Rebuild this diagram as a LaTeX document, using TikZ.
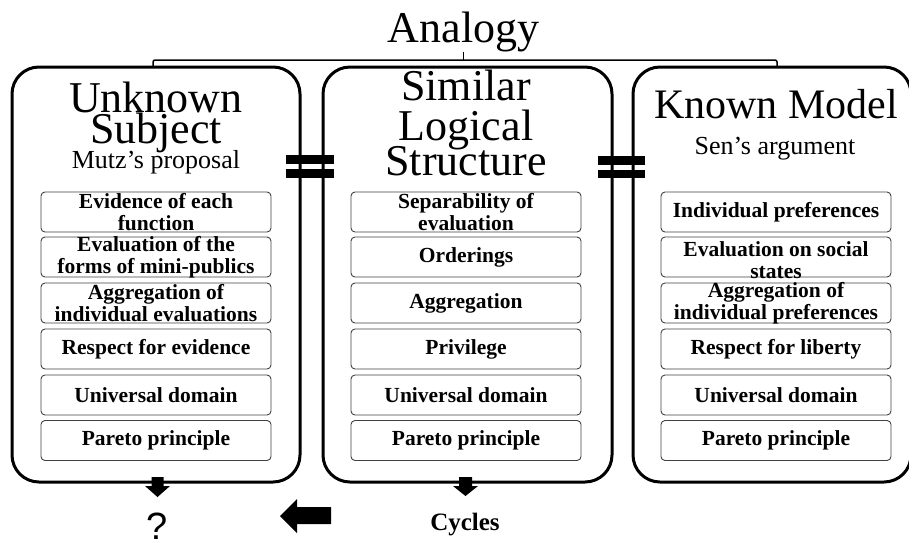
\documentclass[tikz,border=0pt]{standalone}
\usepackage{fontspec}
\setmainfont{Liberation Serif}
\newfontfamily\qfont{Liberation Sans}
\begin{document}
\begin{tikzpicture}[x=1pt,y=-1pt,
  bigbox/.style={draw, line width=3pt, rounded corners=27pt, inner sep=0pt},
  itembox/.style={draw=black!75, line width=0.9pt, rounded corners=4pt, minimum width=230pt, minimum height=40pt, inner sep=0pt},
  itemtext/.style={font=\fontsize{21.5}{22}\selectfont\bfseries, align=center, inner sep=0pt},
  head/.style={font=\fontsize{44}{44}\selectfont, anchor=base, inner sep=0pt},
  subhead/.style={font=\fontsize{26}{26}\selectfont, anchor=base, inner sep=0pt},
  bracket/.style={line width=1.5pt, rounded corners=2pt},
  blk/.style={fill=black, draw=none}]
\useasboundingbox (0,0) rectangle (909,539);

% title
\node[head] (A) at (463.5,42) {Analogy};
\coordinate (bl) at (153,67);
\coordinate (blt) at (153,60);
\coordinate (br) at (777,67);
\coordinate (brt) at (777,60);
\coordinate (bm) at (A.south |- blt);
\draw[bracket] (bl) -- (blt) -- (brt) -- (br);
\draw[line width=1.2pt] (A.south) -- (bm);

% big boxes
\node[bigbox, minimum width=288pt, minimum height=415pt] (U) at (156,274.5) {};
\node[bigbox, minimum width=289pt, minimum height=415pt] (S) at (467.5,274.5) {};
\node[bigbox, minimum width=278pt, minimum height=415pt] (K) at (772,274.5) {};

% headers
\node[head] (U1) at (156,112) {Unknown};
\node[head] (U2) at (156,143) {Subject};
\node[subhead] (U3) at (156,168) {Mutz’s proposal};
\node[head] (S1) at (466,100) {Similar};
\node[head] (S2) at (466,140) {Logical};
\node[head] (S3) at (466,175) {Structure};
\node[head, font=\fontsize{42}{42}\selectfont] (K1) at (776,118) {Known Model};
\node[subhead] (K2) at (775,154) {Sen’s argument};

% equal signs
\fill[blk] (286,155) rectangle (334,164);
\fill[blk] (286,169) rectangle (334,178);
\fill[blk] (598,156) rectangle (645,165);
\fill[blk] (598,170) rectangle (645,178);

% left column
\node[itembox] (L1) at (156,212) {};
\node[itemtext] (L1t) at (L1.center) {Evidence of each\\function};
\node[itembox] (L2) at (156,257) {};
\node[itemtext] (L2t) at (L2.center) {Evaluation of the\\forms of mini-publics};
\node[itembox] (L3) at (156,303) {};
\node[itemtext] (L3t) at (L3.center) {Aggregation of\\individual evaluations};
\node[itembox] (L4) at (156,349) {};
\node[itemtext] (L4t) at (L4.center) {Respect for evidence};
\node[itembox] (L5) at (156,395) {};
\node[itemtext] (L5t) at (L5.center) {Universal domain};
\node[itembox] (L6) at (156,440.5) {};
\node[itemtext] (L6t) at (L6.center) {Pareto principle};

% middle column
\node[itembox] (M1) at (466,212) {};
\node[itemtext] (M1t) at (M1.center) {Separability of\\evaluation};
\node[itembox] (M2) at (466,257) {};
\node[itemtext] (M2t) at (M2.center) {Orderings};
\node[itembox] (M3) at (466,303) {};
\node[itemtext] (M3t) at (M3.center) {Aggregation};
\node[itembox] (M4) at (466,349) {};
\node[itemtext] (M4t) at (M4.center) {Privilege};
\node[itembox] (M5) at (466,395) {};
\node[itemtext] (M5t) at (M5.center) {Universal domain};
\node[itembox] (M6) at (466,440.5) {};
\node[itemtext] (M6t) at (M6.center) {Pareto principle};

% right column
\node[itembox] (R1) at (776,212) {};
\node[itemtext] (R1t) at (R1.center) {Individual preferences};
\node[itembox] (R2) at (776,257) {};
\node[itemtext] (R2t) at ([yshift=-3pt]R2.center) {Evaluation on social\\states};
\node[itembox] (R3) at (776,303) {};
\node[itemtext] (R3t) at (R3.center) {Aggregation of\\individual preferences};
\node[itembox] (R4) at (776,349) {};
\node[itemtext] (R4t) at (R4.center) {Respect for liberty};
\node[itembox] (R5) at (776,395) {};
\node[itemtext] (R5t) at (R5.center) {Universal domain};
\node[itembox] (R6) at (776,440.5) {};
\node[itemtext] (R6t) at (R6.center) {Pareto principle};

% bottom arrows
\fill[blk] (151.5,477) -- (163.5,477) -- (163.5,486) -- (170,486) -- (157.5,497) -- (145,486) -- (151.5,486) -- cycle;
\fill[blk] (459,477) -- (472,477) -- (472,486) -- (478,486) -- (465.5,496) -- (453,486) -- (459,486) -- cycle;
\fill[blk] (280,516) -- (297,499) -- (297,507) -- (331,507) -- (331,524) -- (297,524) -- (297,533) -- cycle;

\node[anchor=base, inner sep=0pt, font=\qfont\fontsize{38}{38}\selectfont] (Q) at (157.5,539) {?};
\node[anchor=base, inner sep=0pt, font=\fontsize{25}{25}\selectfont\bfseries] (C) at (465,530) {Cycles};
\end{tikzpicture}
\end{document}
